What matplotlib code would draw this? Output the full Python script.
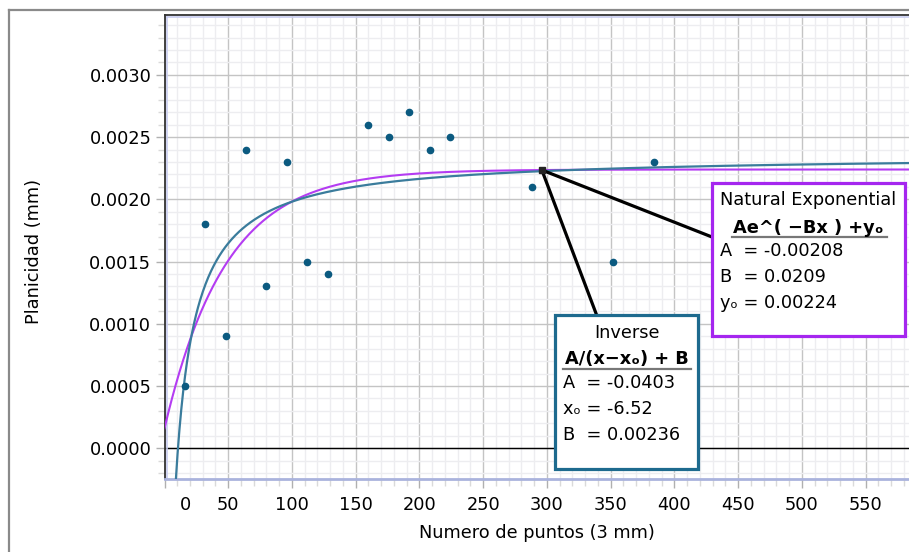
import matplotlib
matplotlib.use('Agg')
import matplotlib.pyplot as plt
import matplotlib.transforms as mtransforms
import numpy as np
from matplotlib.patches import Rectangle
from matplotlib.lines import Line2D
from matplotlib.ticker import MultipleLocator, FuncFormatter

# datos medidos
x_pts = [16, 32, 48, 64, 80, 96, 112, 128, 160, 176, 192, 208, 224, 288, 352, 384]
y_pts = [0.0005, 0.0018, 0.0009, 0.0024, 0.0013, 0.0023, 0.0015, 0.0014,
         0.0026, 0.0025, 0.0027, 0.0024, 0.0025, 0.0021, 0.0015, 0.0023]

# parametros de los ajustes
inv_A, inv_x0, inv_B = -0.0403, -6.52, 0.00236
exp_A, exp_B, exp_y0 = -0.00208, 0.0209, 0.00224
x_anchor = 296

x_ticks = [0, 50, 100, 150, 200, 250, 300, 350, 400, 450, 500, 550]
y_ticks = [0.0, 0.0005, 0.0010, 0.0015, 0.0020, 0.0025, 0.0030]

W, H = 909, 552
FS = 12.8
C_DOT = '#0b5a80'
C_INV = '#3a7c9c'
C_INV_BOX = '#1d6a8e'
C_EXP = '#b43cf2'
C_EXP_BOX = '#a526ef'


def fx(px):
    return px / W


def fy(py):
    return 1 - py / H


fig = plt.figure(figsize=(W / 100, H / 100), dpi=100)
ax = fig.add_axes([fx(164.5), fy(479), fx(909 - 164.5), (479 - 14.7) / H])

ax.set_xlim(0, 584)
ax.set_ylim(-0.000247, 0.003484)

# rejilla
ax.set_xticks(x_ticks)
ax.set_yticks(y_ticks)
ax.xaxis.set_minor_locator(MultipleLocator(10))
ax.yaxis.set_minor_locator(MultipleLocator(0.0001))
ax.yaxis.set_major_formatter(FuncFormatter(lambda v, p: f"{0.0 if abs(v) < 1e-12 else v:.4f}"))
ax.grid(which='minor', color='#ededf0', lw=1.0)
ax.grid(which='major', color='#c4c4c4', lw=1.0)
ax.set_axisbelow(True)

ax.tick_params(which='major', length=6.5, width=1, color='#b0b0b0', labelsize=FS, pad=6)
ax.tick_params(axis='y', which='major', pad=3)
ax.tick_params(which='minor', length=5, width=1, color='#dadada')

# etiqueta "0" desplazada
lab0 = ax.get_xticklabels()[0]
lab0.set_transform(lab0.get_transform() + mtransforms.ScaledTranslation(0.21, 0, fig.dpi_scale_trans))

ax.spines['right'].set_visible(False)
ax.spines['left'].set_color('#333333')
ax.spines['left'].set_linewidth(1.3)
ax.spines['top'].set_color('#333333')
ax.spines['top'].set_linewidth(1.3)
ax.spines['bottom'].set_color('#aab3dd')
ax.spines['bottom'].set_linewidth(2)
# lineas azules interiores
off_l = mtransforms.offset_copy(ax.transAxes, fig=fig, x=2, y=0, units='dots')
off_t = mtransforms.offset_copy(ax.transAxes, fig=fig, x=0, y=-2, units='dots')
ax.plot([0, 0], [0, 1], transform=off_l, color='#c8cdf0', lw=1.2, clip_on=False)
ax.plot([0, 1], [1, 1], transform=off_t, color='#c8cdf0', lw=1.2, clip_on=False)

ax.axhline(0, color='black', lw=1.0, zorder=1.5)

# curvas ajustadas
x_fit = np.linspace(0, 584, 800)
y_inv = inv_A / (x_fit - inv_x0) + inv_B
y_exp = exp_A * np.exp(-exp_B * x_fit) + exp_y0
ax.plot(x_fit, y_exp, color=C_EXP, lw=1.5, zorder=3)
ax.plot(x_fit, y_inv, color=C_INV, lw=1.6, zorder=3)

ax.plot(x_pts, y_pts, 'o', color=C_DOT, ms=4.5, zorder=4)

ax.set_xlabel('Numero de puntos (3 mm)', fontsize=FS, labelpad=7)
ax.set_ylabel('Planicidad (mm)', fontsize=FS)
ax.yaxis.set_label_coords(-0.163, 0.49)

# anotaciones
y_anchor = exp_A * np.exp(-exp_B * x_anchor) + exp_y0
ax.plot(x_anchor, y_anchor, 's', color='#222222', ms=4, zorder=6)
for tx, ty in [(712, 237), (597, 316)]:
    ax.annotate('', xy=(x_anchor, y_anchor), xycoords='data',
                xytext=(tx, H - ty), textcoords='figure pixels',
                arrowprops=dict(arrowstyle='-', color='black', lw=2.3,
                                shrinkA=0, shrinkB=0), zorder=5)


def box(x0, y0, x1, y1, color, title, formula, ul, lines, xt, yl0):
    fig.add_artist(Rectangle((fx(x0), fy(y1)), fx(x1 - x0), (y1 - y0) / H,
                             transform=fig.transFigure, facecolor='white',
                             edgecolor=color, lw=2.3, zorder=10))
    cx = (x0 + x1) / 2
    fig.text(fx(cx), fy(title[1]), title[0], ha='center', va='center',
             fontsize=FS, zorder=11)
    fig.text(fx(cx), fy(formula[1]), formula[0], ha='center', va='center',
             fontsize=FS, fontweight='bold', zorder=11)
    fig.add_artist(Line2D([fx(ul[0]), fx(ul[1])], [fy(ul[2]), fy(ul[2])],
                          transform=fig.transFigure, color='#777777', lw=1.6, zorder=11))
    for i, t in enumerate(lines):
        fig.text(fx(xt), fy(yl0 + 26 * i), t, ha='left', va='center',
                 fontsize=FS, zorder=11)


box(712, 183, 905, 336, C_EXP_BOX,
    ('Natural Exponential', 200), ('Ae^( \u2212Bx ) +y\u2092', 228), (732, 887, 237),
    [f'A  = {exp_A}', f'B  = {exp_B}', f'y\u2092 = {exp_y0}'], 720, 251)
box(555, 315, 698, 469, C_INV_BOX,
    ('Inverse', 333), ('A/(x\u2212x\u2092) + B', 359), (563, 691, 369),
    [f'A  = {inv_A}', f'x\u2092 = {inv_x0}', f'B  = {inv_B}'], 563, 383)

# marco exterior
fig.add_artist(Line2D([fx(9), fx(9)], [fy(10), 0], transform=fig.transFigure, color='#8a8a8a', lw=1.6))
fig.add_artist(Line2D([fx(9), 1], [fy(10), fy(10)], transform=fig.transFigure, color='#8a8a8a', lw=1.6))

fig.savefig('out.png', dpi=100)
